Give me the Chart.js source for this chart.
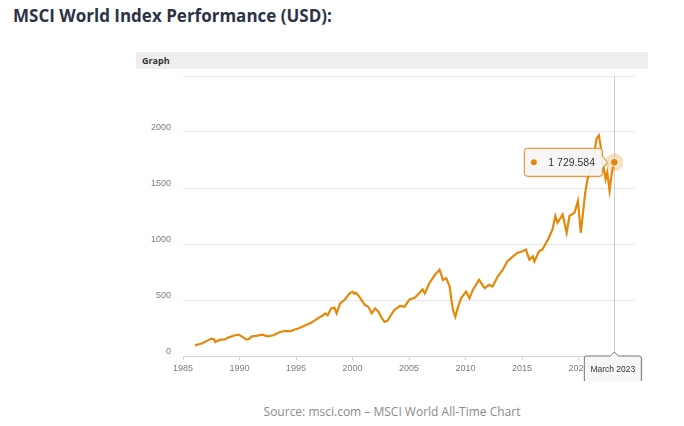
<!DOCTYPE html>
<html>
<head>
<meta charset="utf-8">
<script src="https://cdn.jsdelivr.net/npm/chart.js@4/dist/chart.umd.min.js"></script>
<style>
    body { margin: 0; background: #fff; width: 684px; height: 426px; position: relative; overflow: hidden; }
    h1 { position: absolute; left: 13px; top: 4px; margin: 0; font: bold 17px "Open Sans", sans-serif; color: #2c3345; white-space: nowrap; }
    .panel-head { position: absolute; left: 136px; top: 52px; width: 512px; height: 17px; background: #eeeeee; }
    .panel-head span { position: absolute; left: 6px; top: 2px; font: bold 9px "Open Sans", sans-serif; color: #333; }
    .chart-box { position: absolute; left: 136px; top: 69px; width: 512px; height: 312px; }
    .source { position: absolute; left: 0; width: 784px; top: 403px; text-align: center; font: 12px "Open Sans", sans-serif; color: #8a8a8a; }
</style>
</head>
<body>
<h1>MSCI World Index Performance (USD):</h1>
<div class="panel-head"><span>Graph</span></div>
<div class="chart-box"><canvas id="msci-chart"></canvas></div>
<div class="source">Source: msci.com – MSCI World All-Time Chart</div>

<script>
// values (decimal year -> index level)
const years = [
    1986.06, 1986.4, 1986.65, 1987.1, 1987.5, 1987.75, 1987.85, 1988.3, 1988.7, 1989.0,
    1989.6, 1989.9, 1990.2, 1990.6, 1990.8, 1991.1, 1991.5, 1992.0, 1992.5, 1993.0,
    1993.6, 1994.0, 1994.5, 1994.9, 1995.2, 1995.8, 1996.3, 1996.7, 1997.0, 1997.4,
    1997.6, 1997.8, 1998.1, 1998.4, 1998.6, 1998.9, 1999.3, 1999.75, 2000.0, 2000.15,
    2000.3, 2000.6, 2001.1, 2001.4, 2001.7, 2002.0, 2002.3, 2002.6, 2002.85, 2003.1,
    2003.3, 2003.7, 2004.2, 2004.6, 2005.05, 2005.5, 2005.9, 2006.2, 2006.4, 2006.8,
    2007.3, 2007.7, 2007.85, 2008.0, 2008.3, 2008.6, 2008.75, 2008.9, 2009.1, 2009.3,
    2009.6, 2010.05, 2010.35, 2010.65, 2011.2, 2011.7, 2012.1, 2012.4, 2012.85, 2013.3,
    2013.7, 2014.2, 2014.6, 2015.05, 2015.35, 2015.65, 2015.95, 2016.1, 2016.5, 2016.8,
    2017.3, 2017.7, 2017.95, 2018.15, 2018.6, 2018.95, 2019.2, 2019.65, 2019.95, 2020.2,
    2020.4, 2020.6, 2020.8, 2021.1, 2021.4, 2021.6, 2021.8, 2021.95, 2022.1, 2022.25,
    2022.4, 2022.55, 2022.75, 2022.95, 2023.17
];
const values = [
    95, 105, 112, 133, 155, 150, 124, 146, 148, 164,
    185, 191, 175, 146, 150, 175, 180, 191, 175, 185,
    214, 223, 222, 236, 245, 272, 295, 320, 340, 364,
    380, 364, 425, 430, 380, 470, 500, 560, 574, 555,
    565, 530, 455, 440, 380, 425, 395, 335, 305, 315,
    350, 410, 448, 440, 505, 520, 560, 595, 560, 650,
    725, 770, 730, 680, 695, 620, 500, 410, 350, 425,
    515, 575, 515, 590, 680, 605, 635, 620, 710, 770,
    845, 890, 920, 935, 950, 860, 890, 845, 935, 950,
    1040, 1130, 1250, 1190, 1265, 1100, 1250, 1280, 1385, 1100,
    1280, 1460, 1580, 1670, 1820, 1940, 1970, 1880, 1730, 1670,
    1580, 1640, 1475, 1640, 1729.584
];
const yTicks = [0, 500, 1000, 1500, 2000, 2500];
const xTicks = [1985, 1990, 1995, 2000, 2005, 2010, 2015, 2020];
const lastLabel = 'March 2023';
const lastValueText = '1 729.584';

const LINE_COLOR = '#e5890b';
const LABEL_FONT = { family: '"Liberation Sans", Arial, sans-serif', size: 9 };

// crosshair, highlighted point, value tooltip and x label, drawn like the hovered state
const hoverOverlay = {
    id: 'hoverOverlay',
    afterDraw(chart) {
        const ctx = chart.ctx;
        const meta = chart.getDatasetMeta(0);
        const pt = meta.data[meta.data.length - 1];
        const area = chart.chartArea;
        const px = Math.round(pt.x) + 0.5;

        ctx.save();
        // crosshair
        ctx.strokeStyle = '#cccccc';
        ctx.lineWidth = 1;
        ctx.beginPath();
        ctx.moveTo(px, area.top);
        ctx.lineTo(px, area.bottom - 3);
        ctx.stroke();

        // halo + marker
        ctx.fillStyle = 'rgba(229,137,11,0.25)';
        ctx.beginPath();
        ctx.arc(pt.x, pt.y, 9, 0, Math.PI * 2);
        ctx.fill();
        ctx.fillStyle = LINE_COLOR;
        ctx.strokeStyle = '#ffffff';
        ctx.beginPath();
        ctx.arc(pt.x, pt.y, 4, 0, Math.PI * 2);
        ctx.fill();
        ctx.stroke();

        // value tooltip (caret pointing right towards the point)
        const bw = 78, bh = 28;
        const bx = pt.x - 12 - bw, by = pt.y - bh / 2;
        ctx.shadowColor = 'rgba(0,0,0,0.15)';
        ctx.shadowOffsetX = 1;
        ctx.shadowOffsetY = 1;
        ctx.shadowBlur = 2;
        ctx.fillStyle = 'rgba(247,247,247,0.92)';
        ctx.strokeStyle = LINE_COLOR;
        ctx.beginPath();
        ctx.moveTo(bx + 3, by);
        ctx.lineTo(bx + bw - 3, by);
        ctx.quadraticCurveTo(bx + bw, by, bx + bw, by + 3);
        ctx.lineTo(bx + bw, pt.y - 6);
        ctx.lineTo(bx + bw + 5, pt.y);
        ctx.lineTo(bx + bw, pt.y + 6);
        ctx.lineTo(bx + bw, by + bh - 3);
        ctx.quadraticCurveTo(bx + bw, by + bh, bx + bw - 3, by + bh);
        ctx.lineTo(bx + 3, by + bh);
        ctx.quadraticCurveTo(bx, by + bh, bx, by + bh - 3);
        ctx.lineTo(bx, by + 3);
        ctx.quadraticCurveTo(bx, by, bx + 3, by);
        ctx.closePath();
        ctx.fill();
        ctx.shadowColor = 'transparent';
        ctx.stroke();

        ctx.fillStyle = LINE_COLOR;
        ctx.beginPath();
        ctx.arc(bx + 9.5, pt.y, 3, 0, Math.PI * 2);
        ctx.fill();
        ctx.fillStyle = '#333333';
        ctx.font = '10.5px "Liberation Sans", Arial, sans-serif';
        ctx.textBaseline = 'middle';
        ctx.textAlign = 'left';
        ctx.fillText(lastValueText, bx + 24, pt.y + 0.5);

        // x-axis crosshair label
        const lw = 57, lh = 26;
        const lx = pt.x - 30, ly = area.bottom;
        ctx.shadowColor = 'rgba(0,0,0,0.15)';
        ctx.shadowOffsetX = 1;
        ctx.shadowOffsetY = 1;
        ctx.shadowBlur = 2;
        ctx.fillStyle = '#f7f7f7';
        ctx.strokeStyle = '#777777';
        ctx.beginPath();
        ctx.moveTo(lx + 2, ly);
        ctx.lineTo(pt.x - 4, ly);
        ctx.lineTo(pt.x, ly - 4);
        ctx.lineTo(pt.x + 4, ly);
        ctx.lineTo(lx + lw - 2, ly);
        ctx.quadraticCurveTo(lx + lw, ly, lx + lw, ly + 2);
        ctx.lineTo(lx + lw, ly + lh - 2);
        ctx.quadraticCurveTo(lx + lw, ly + lh, lx + lw - 2, ly + lh);
        ctx.lineTo(lx + 2, ly + lh);
        ctx.quadraticCurveTo(lx, ly + lh, lx, ly + lh - 2);
        ctx.lineTo(lx, ly + 2);
        ctx.quadraticCurveTo(lx, ly, lx + 2, ly);
        ctx.closePath();
        ctx.fill();
        ctx.shadowColor = 'transparent';
        ctx.stroke();

        ctx.fillStyle = '#333333';
        ctx.font = '8.5px "Liberation Sans", Arial, sans-serif';
        ctx.textAlign = 'center';
        ctx.fillText(lastLabel, lx + lw / 2, ly + lh / 2 + 0.5);
        ctx.restore();
    }
};

const points = years.map((yr, i) => ({ x: yr, y: values[i] }));

new Chart(document.getElementById('msci-chart'), {
    type: 'line',
    data: {
        datasets: [{
            data: points,
            borderColor: LINE_COLOR,
            borderWidth: 2.2,
            pointRadius: 0,
            tension: 0,
            fill: false
        }]
    },
    options: {
        responsive: true,
        maintainAspectRatio: false,
        animation: false,
        events: [],
        layout: { padding: { top: 7, right: 13, left: 0, bottom: 0 } },
        plugins: {
            legend: { display: false },
            tooltip: { enabled: false }
        },
        scales: {
            x: {
                type: 'linear',
                min: 1985,
                max: 2025,
                afterFit: scale => {
                    scale.height = 25;
                    scale.paddingLeft = 0;
                    scale.paddingRight = 0;
                },
                afterBuildTicks: scale => { scale.ticks = xTicks.map(v => ({ value: v })); },
                ticks: {
                    color: '#857a70',
                    font: LABEL_FONT,
                    padding: 3,
                    maxRotation: 0,
                    autoSkip: false,
                    callback: v => String(v)
                },
                grid: { drawOnChartArea: false, drawTicks: true, tickLength: 4, color: '#ccd6eb' },
                border: { color: '#ccd6eb', width: 1 }
            },
            y: {
                min: 0,
                max: 2500,
                afterFit: scale => {
                    scale.width = 47;
                    scale.paddingTop = 0;
                    scale.paddingBottom = 0;
                },
                afterBuildTicks: scale => { scale.ticks = yTicks.map(v => ({ value: v })); },
                ticks: {
                    color: '#857a70',
                    font: LABEL_FONT,
                    padding: 12,
                    labelOffset: -4,
                    callback: v => (v === 2500 ? '' : String(v))
                },
                grid: { color: '#e6e6e6', drawTicks: false },
                border: { display: false }
            }
        }
    },
    plugins: [hoverOverlay]
});
</script>
</body>
</html>
